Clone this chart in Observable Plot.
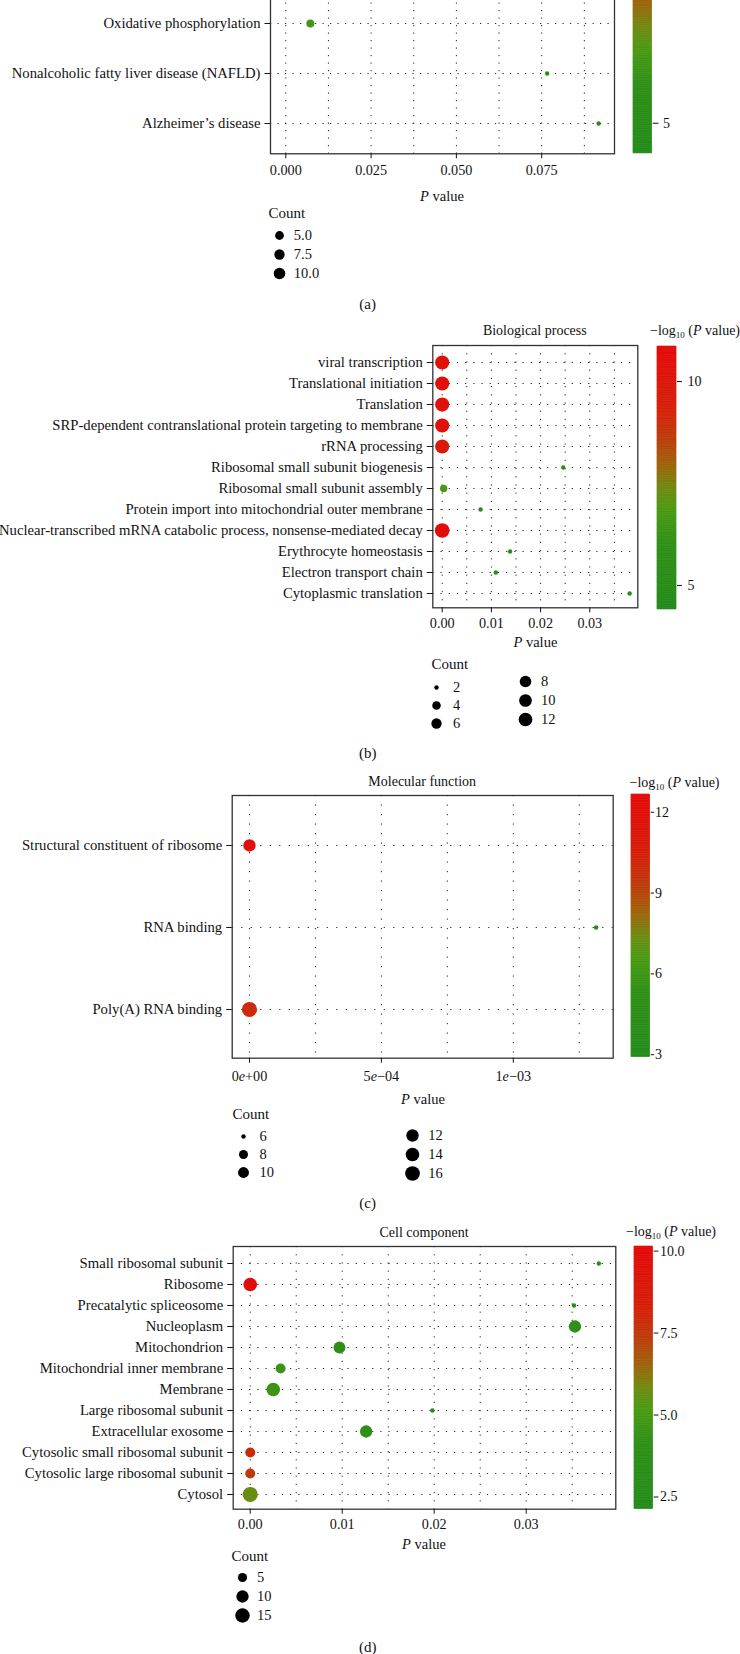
<!DOCTYPE html>
<html><head><meta charset="utf-8">
<script src="https://cdn.jsdelivr.net/npm/d3@7"></script>
<script src="https://cdn.jsdelivr.net/npm/@observablehq/plot@0.6"></script>
<style>
html,body{margin:0;padding:0;background:#fff;}
#root{position:relative;width:740px;height:1654px;overflow:hidden;font-family:"Liberation Serif","Times New Roman",serif;color:#111;}
.t{position:absolute;white-space:nowrap;font-size:14px;line-height:1;transform:translate(-50%,-50%);}
.tl{position:absolute;white-space:nowrap;font-size:14px;line-height:1;transform:translate(0,-50%);}
sub{font-size:9px;vertical-align:-3px;line-height:0;}
</style></head><body><div id="root"></div>
<script>
// ---------- data ----------
// (a) KEGG (top part cut off in the reference)
const aTerms = ["Oxidative phosphorylation", "Nonalcoholic fatty liver disease (NAFLD)", "Alzheimer’s disease"];
const aP = [0.0072, 0.0766, 0.0917];
const aCount = [4, 2, 2];
const aNegLog = [6.6, 5.1, 5.0];
const aTicks = [0, 0.025, 0.05, 0.075];
const aSizeBreaks = [5.0, 7.5, 10.0];
const aSizeLabels = ["5.0", "7.5", "10.0"];
const aColorTicks = [5];

// (b) Biological process
const bTerms = ["viral transcription", "Translational initiation", "Translation",
  "SRP-dependent contranslational protein targeting to membrane", "rRNA processing",
  "Ribosomal small subunit biogenesis", "Ribosomal small subunit assembly",
  "Protein import into mitochondrial outer membrane",
  "Nuclear-transcribed mRNA catabolic process, nonsense-mediated decay",
  "Erythrocyte homeostasis", "Electron transport chain", "Cytoplasmic translation"];
const bP = [0, 0, 0, 0, 0, 0.0246, 0.0003, 0.0078, 0, 0.0138, 0.0109, 0.0381];
const bCount = [13, 13, 13, 13, 13, 2, 3, 2, 14, 2, 2, 2];
const bNegLog = [10.4, 10.5, 10.4, 10.45, 9.7, 5.0, 6.8, 5.6, 10.7, 5.3, 5.5, 4.9];
const bTicks = [0, 0.01, 0.02, 0.03];
const bSizeBreaksCol1 = [2, 4, 6];
const bSizeBreaksCol2 = [8, 10, 12];
const bColorTicks = [5, 10];

// (c) Molecular function
const cTerms = ["Structural constituent of ribosome", "RNA binding", "Poly(A) RNA binding"];
const cP = [0, 0.001314, 0];
const cCount = [12, 6, 17];
const cNegLog = [12.0, 3.3, 9.9];
const cTicks = [0, 0.0005, 0.001];
const cTickLabels = ["0e+00", "5e−04", "1e−03"];
const cSizeBreaksCol1 = [6, 8, 10];
const cSizeBreaksCol2 = [12, 14, 16];
const cColorTicks = [3, 6, 9, 12];

// (d) Cell component
const dTerms = ["Small ribosomal subunit", "Ribosome", "Precatalytic spliceosome", "Nucleoplasm",
  "Mitochondrion", "Mitochondrial inner membrane", "Membrane", "Large ribosomal subunit",
  "Extracellular exosome", "Cytosolic small ribosomal subunit", "Cytosolic large ribosomal subunit", "Cytosol"];
const dP = [0.0379, 0, 0.0352, 0.0353, 0.0097, 0.0033, 0.0025, 0.0198, 0.0126, 0, 0, 0];
const dCount = [2, 13, 2, 10, 9, 6, 13, 2, 10, 6, 6, 17];
const dNegLog = [2.9, 9.9, 2.8, 4.1, 4.0, 4.5, 4.6, 2.7, 4.0, 7.9, 7.4, 5.7];
const dTicks = [0, 0.01, 0.02, 0.03];
const dSizeBreaks = [5, 10, 15];
const dColorTicks = [2.5, 5.0, 7.5, 10.0];

// ---------- style ----------
const FONT = '"Liberation Serif","Times New Roman",serif';
const gradStops = [0, 0.25, 0.38, 0.46, 0.54, 0.64, 0.76, 1];
const gradColors = ["#238B1A", "#2F8F16", "#4B9A12", "#6E8A10", "#9A680C", "#B9400A", "#D5200A", "#E40A0A"];
function gradient(t) {
  t = Math.max(0, Math.min(1, t));
  let i = 0;
  while (i < gradStops.length - 2 && t > gradStops[i + 1]) i++;
  const u = (t - gradStops[i]) / (gradStops[i + 1] - gradStops[i]);
  return d3.interpolateRgb(gradColors[i], gradColors[i + 1])(u);
}
const colorScale = (domain) => ({type: "linear", domain, interpolate: gradient, clamp: true});
const rScale = (o) => ({type: "linear", transform: v => Math.sqrt(Math.max(0, v - o.min)),
  domain: [0, Math.sqrt(o.max - o.min)], range: [o.r0, o.r1]});

const root = document.getElementById("root");
function place(el, left, top) { el.style.position = "absolute"; el.style.left = left + "px"; el.style.top = top + "px"; root.append(el); }
function txt(cls, x, y, html, size) {
  const d = document.createElement("div"); d.className = cls; d.innerHTML = html;
  d.style.left = x + "px"; d.style.top = y + "px"; if (size) d.style.fontSize = size + "px";
  root.append(d); return d;
}

function panel(o) {
  const data = o.terms.map((t, i) => ({term: t, p: o.p[i], count: o.count[i], c: o.neglog[i]}));
  const top = o.box.t - 10;
  const H = o.box.b - top + 40;
  const plot = Plot.plot({
    width: 740, height: H,
    marginLeft: o.box.l, marginRight: 740 - o.box.r, marginTop: 10, marginBottom: H - (o.box.b - top),
    style: {fontFamily: FONT, fontSize: "14px", color: "#111", background: "transparent", overflow: "visible"},
    x: {domain: o.xDomain},
    y: {type: "point", domain: o.terms, range: [o.rowTop - top, o.rowBottom - top], padding: 0},
    r: rScale(o.r),
    color: colorScale(o.cDomain),
    marks: [
      Plot.ruleX(o.grid, {stroke: "#222", strokeWidth: 1, strokeDasharray: o.dash}),
      Plot.ruleY(o.terms, {stroke: "#222", strokeWidth: 1, strokeDasharray: o.dash}),
      Plot.frame({stroke: "#333", strokeWidth: 1.3}),
      Plot.dot(data, {x: "p", y: "term", r: "count", fill: "c"}),
      Plot.axisY({tickSize: 5.5, tickPadding: 4.5, label: null, fontSize: 14.7}),
      Plot.axisX({ticks: o.ticks, tickFormat: o.fmt, tickSize: 5, tickPadding: o.xpad, label: null, fontSize: 14.2})
    ]
  });
  place(plot, 0, top);
  return plot;
}

function colorbar(o) {
  const [lo, hi] = o.domain, n = 150;
  const steps = d3.range(n).map(i => ({y1: lo + (hi - lo) * i / n, y2: lo + (hi - lo) * (i + 1) / n}));
  const bw = o.x1 - o.x0, W = bw + 50;
  const plot = Plot.plot({
    width: W, height: o.bottom - o.top + 20,
    marginLeft: 0, marginRight: W - bw, marginTop: 10, marginBottom: 10,
    style: {fontFamily: FONT, fontSize: "14px", color: "#111", background: "transparent", overflow: "visible"},
    x: {domain: [0, 1], axis: null},
    y: {domain: [lo, hi]},
    color: colorScale([lo, hi]),
    marks: [
      Plot.rect(steps, {x1: 0, x2: 1, y1: "y1", y2: "y2", fill: d => (d.y1 + d.y2) / 2, stroke: d => (d.y1 + d.y2) / 2, strokeWidth: 0.6}),
      Plot.axisY({anchor: "right", ticks: o.ticks, tickFormat: o.fmt, tickSize: o.tickSize, tickPadding: o.pad, label: null, fontSize: 14})
    ]
  });
  place(plot, o.x0, o.top - 10);
}

function sizeLegend(o) {
  const H = o.yLast - o.yFirst + 30;
  const plot = Plot.plot({
    width: 70, height: H, marginLeft: 10, marginRight: 0, marginTop: 15, marginBottom: 15,
    style: {fontFamily: FONT, fontSize: "14px", color: "#111", background: "transparent", overflow: "visible"},
    y: {type: "point", domain: o.breaks, range: [15, H - 15], padding: 0, axis: null},
    r: rScale(o.r),
    marks: [
      Plot.dot(o.breaks, {y: d => d, r: d => d, fill: "#000", frameAnchor: "left"}),
      Plot.text(o.breaks, {y: d => d, text: (d, i) => o.labels ? o.labels[i] : String(d), frameAnchor: "left",
        dx: o.labelX - o.dotX, textAnchor: "start", fontSize: 14.5})
    ]
  });
  place(plot, o.dotX - 10, o.yFirst - 15);
}

const cbTitle = "−log<sub>10</sub> (<i>P</i> value)";
const pLabel = "<i>P</i> value";

// ---------- (a) ----------
const aR = {min: 2, max: 11, r0: 2.2, r1: 6};
panel({terms: aTerms, p: aP, count: aCount, neglog: aNegLog,
  box: {l: 270, r: 614, t: -140, b: 153.3}, xDomain: [-0.00448, 0.09634], rowTop: 21.7, rowBottom: 123.3,
  grid: d3.range(0, 0.09, 0.0125), dash: "1.2,6.3", ticks: aTicks, fmt: d3.format(".3f"), xpad: 6.5,
  r: aR, cDomain: [4.26, 10.98]});
colorbar({x0: 633.3, x1: 652, top: -120.7, bottom: 153.3, domain: [4.26, 10.98], ticks: aColorTicks, fmt: d3.format("d"), tickSize: 5.7, pad: 5});
txt("t", 442, 195.7, pLabel, 14.5);
txt("tl", 268.4, 213.3, "Count", 15);
sizeLegend({breaks: aSizeBreaks, labels: aSizeLabels, dotX: 279, labelX: 293.3, yFirst: 235.3, yLast: 273.7, r: aR});
txt("t", 367.7, 304, "(a)", 15);

// ---------- (b) ----------
const bR = {min: 2, max: 14, r0: 2.2, r1: 7.3};
txt("t", 534.8, 331, "Biological process", 14);
txt("tl", 650, 331, cbTitle, 14);
panel({terms: bTerms, p: bP, count: bCount, neglog: bNegLog,
  box: {l: 432.3, r: 637.3, t: 345, b: 607.3}, xDomain: [-0.00191, 0.03976], rowTop: 358.3, rowBottom: 595.7,
  grid: d3.range(0, 0.0376, 0.005), dash: "1.2,7", ticks: bTicks, fmt: d3.format(".2f"), xpad: 5,
  r: bR, cDomain: [4.41, 10.86]});
colorbar({x0: 657, x1: 676, top: 346, bottom: 609, domain: [4.41, 10.86], ticks: bColorTicks, fmt: d3.format("d"), tickSize: 5, pad: 6});
txt("t", 535.4, 642.3, pLabel, 14.5);
txt("tl", 431.5, 664.3, "Count", 15);
sizeLegend({breaks: bSizeBreaksCol1, dotX: 436.2, labelX: 452.7, yFirst: 685.7, yLast: 723.3, r: bR});
sizeLegend({breaks: bSizeBreaksCol2, dotX: 524.6, labelX: 540, yFirst: 680.3, yLast: 720, r: bR});
txt("t", 367.7, 753.3, "(b)", 15);

// ---------- (c) ----------
const cR = {min: 6, max: 17, r0: 2.2, r1: 7.6};
txt("t", 422.2, 782.3, "Molecular function", 14);
txt("tl", 629.5, 782.7, cbTitle, 14);
const cPlot = panel({terms: cTerms, p: cP, count: cCount, neglog: cNegLog,
  box: {l: 231.7, r: 612.7, t: 795, b: 1057.7}, xDomain: [-0.0000655, 0.0013787], rowTop: 844.3, rowBottom: 1009,
  grid: d3.range(0, 0.0013, 0.00025), dash: "1.2,8.3", ticks: cTicks, fmt: d => cTickLabels[cTicks.indexOf(d)], xpad: 7.5,
  r: cR, cDomain: [2.91, 12.66]});
cPlot.querySelectorAll('g[aria-label="x-axis tick label"] text').forEach(t => {
  const s = t.textContent; const k = s.indexOf("e");
  if (k >= 0) t.innerHTML = s.slice(0, k) + '<tspan font-style="italic">e</tspan>' + s.slice(k + 1);
});
colorbar({x0: 631.3, x1: 650, top: 794, bottom: 1056.7, domain: [2.91, 12.66], ticks: cColorTicks, fmt: d3.format("d"), tickSize: 3.3, pad: 1.5});
txt("t", 423, 1099, pLabel, 14.5);
txt("tl", 232.5, 1114.3, "Count", 15);
sizeLegend({breaks: cSizeBreaksCol1, dotX: 243, labelX: 259, yFirst: 1134.7, yLast: 1171.7, r: cR});
sizeLegend({breaks: cSizeBreaksCol2, dotX: 412, labelX: 427.7, yFirst: 1134.7, yLast: 1172.7, r: cR});
txt("t", 367.7, 1203.3, "(c)", 15);

// ---------- (d) ----------
const dR = {min: 2, max: 17, r0: 2.2, r1: 7.6};
txt("t", 424, 1233.3, "Cell component", 14);
txt("tl", 626, 1231.7, cbTitle, 14);
panel({terms: dTerms, p: dP, count: dCount, neglog: dNegLog,
  box: {l: 232.7, r: 615.3, t: 1246, b: 1508.7}, xDomain: [-0.00185, 0.03974], rowTop: 1259.7, rowBottom: 1497,
  grid: d3.range(0, 0.0376, 0.005), dash: "1.2,7", ticks: dTicks, fmt: d3.format(".2f"), xpad: 5,
  r: dR, cDomain: [2.13, 10.14]});
colorbar({x0: 634, x1: 652.7, top: 1246, bottom: 1508.7, domain: [2.13, 10.14], ticks: dColorTicks, fmt: d3.format(".1f"), tickSize: 4.7, pad: 2});
txt("t", 424, 1544.3, pLabel, 14.5);
txt("tl", 231.6, 1555.7, "Count", 15);
sizeLegend({breaks: dSizeBreaks, dotX: 242, labelX: 256.6, yFirst: 1577, yLast: 1615.3, r: dR});
txt("t", 367.7, 1646.7, "(d)", 15);
</script></body></html>
